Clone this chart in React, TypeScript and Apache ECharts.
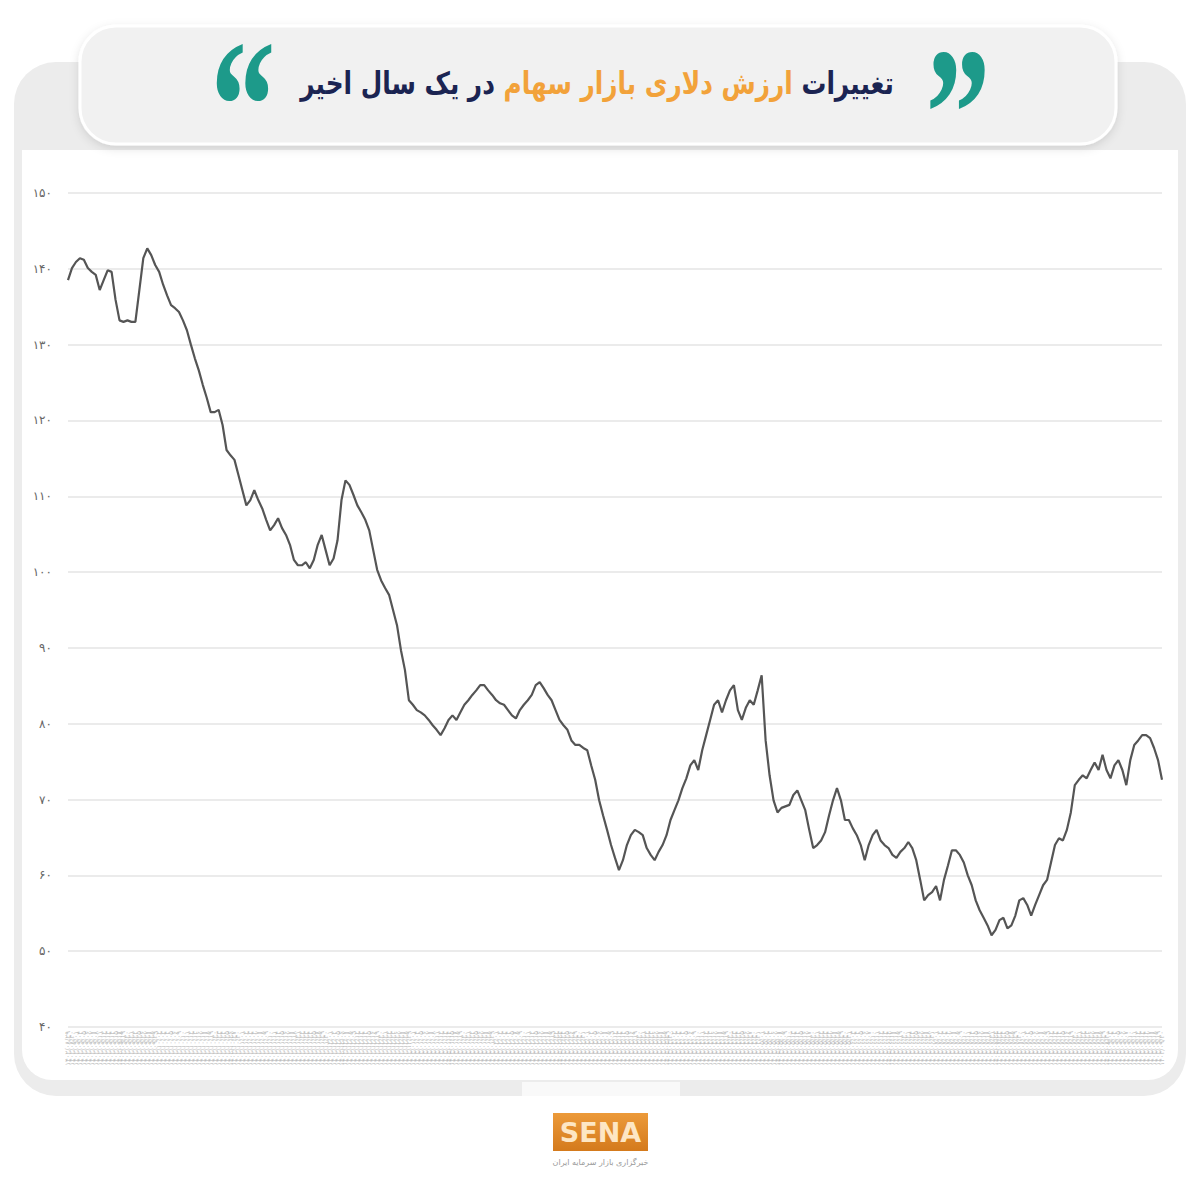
import React, { useEffect, useRef } from "react";
import * as echarts from "echarts";

// Dollar value of the stock market (billion USD)
const marketValues: number[] = [
  138.5, 140.1, 140.9, 141.4, 141.2, 140.1, 139.6, 139.2, 137.2, 138.5, 139.8, 139.6,
  135.9, 133.2, 133.0, 133.2, 133.0, 133.0, 137.2, 141.4, 142.7, 141.8, 140.5, 139.6,
  137.9, 136.5, 135.2, 134.8, 134.3, 133.2, 131.9, 130.0, 128.2, 126.6, 124.7, 123.0,
  121.1, 121.1, 121.4, 119.4, 116.1, 115.4, 114.8, 112.8, 110.8, 108.8, 109.5, 110.8,
  109.5, 108.4, 106.9, 105.5, 106.2, 107.1, 105.8, 104.9, 103.6, 101.6, 100.9, 100.9,
  101.3, 100.5, 101.6, 103.6, 104.9, 102.9, 100.9, 101.8, 104.2, 109.5, 112.1, 111.5,
  110.2, 108.8, 107.9, 106.9, 105.5, 102.9, 100.3, 98.9, 97.9, 97.0, 95.0, 93.0,
  89.7, 87.1, 83.1, 82.5, 81.8, 81.5, 81.1, 80.5, 79.8, 79.2, 78.5, 79.4,
  80.5, 81.1, 80.5, 81.5, 82.5, 83.1, 83.8, 84.4, 85.1, 85.1, 84.4, 83.8,
  83.1, 82.7, 82.5, 81.8, 81.1, 80.7, 81.8, 82.5, 83.1, 83.8, 85.1, 85.5,
  84.7, 83.8, 83.1, 81.8, 80.5, 79.8, 79.2, 77.8, 77.2, 77.2, 76.8, 76.5,
  74.5, 72.6, 69.9, 67.9, 66.0, 64.0, 62.3, 60.7, 62.0, 64.0, 65.3, 66.0,
  65.7, 65.3, 63.6, 62.7, 62.0, 63.1, 64.0, 65.3, 67.3, 68.6, 69.9, 71.5,
  72.8, 74.5, 75.2, 73.9, 76.5, 78.5, 80.5, 82.5, 83.1, 81.5, 83.1, 84.4,
  85.1, 81.8, 80.5, 82.1, 83.1, 82.5, 84.4, 86.4, 77.8, 73.2, 69.9, 68.3,
  68.9, 69.1, 69.3, 70.6, 71.2, 69.9, 68.6, 66.0, 63.6, 64.0, 64.6, 65.7,
  67.9, 69.9, 71.5, 69.9, 67.3, 67.3, 66.2, 65.3, 64.0, 62.0, 64.0, 65.3,
  66.0, 64.6, 64.0, 63.6, 62.7, 62.3, 63.1, 63.6, 64.4, 63.6, 62.0, 59.4,
  56.7, 57.4, 57.8, 58.6, 56.7, 59.4, 61.3, 63.3, 63.3, 62.7, 61.7, 60.0,
  58.7, 56.7, 55.4, 54.4, 53.4, 52.1, 52.8, 54.1, 54.4, 53.0, 53.4, 54.7,
  56.7, 57.0, 56.1, 54.7, 56.1, 57.4, 58.7, 59.4, 61.7, 64.0, 64.9, 64.6,
  66.0, 68.3, 71.9, 72.6, 73.2, 72.8, 73.9, 74.9, 73.9, 75.9, 73.9, 72.8,
  74.5, 75.2, 73.9, 71.9, 75.2, 77.2, 77.8, 78.5, 78.5, 78.1, 76.8, 75.2,
  72.6,
];

// Trading-day labels (Persian calendar), one per point
const tradingDates: string[] = (() => {
  const out: string[] = [];
  const fmt = (() => {
    try {
      return new Intl.DateTimeFormat("fa-IR-u-ca-persian", {
        year: "numeric",
        month: "2-digit",
        day: "2-digit",
      });
    } catch (e) {
      return null;
    }
  })();
  const d = new Date(2024, 11, 10);
  while (out.length < marketValues.length) {
    const wd = d.getDay(); // Thu=4, Fri=5 closed
    if (wd !== 4 && wd !== 5) {
      out.unshift(fmt ? fmt.format(d) : d.toISOString().slice(0, 10));
    }
    d.setDate(d.getDate() - 1);
  }
  return out;
})();

const yMin = 40;
const yMax = 150;
const yStep = 10;

const titleStart = "تغییرات";
const titleMiddle = "ارزش دلاری بازار سهام";
const titleEnd = "در یک سال اخیر";

const toFa = (s: string) => s.replace(/[0-9]/g, (c) => "۰۱۲۳۴۵۶۷۸۹"[+c]);

export default function App() {
  const ref = useRef<HTMLDivElement>(null);

  useEffect(() => {
    if (!ref.current) return;
    const chart = echarts.init(ref.current, undefined, { renderer: "svg" });
    chart.setOption({
      animation: false,
      backgroundColor: "#ffffff",
      graphic: [
        // outer grey card
        {
          type: "rect",
          z: -20,
          silent: true,
          shape: { x: 14, y: 62, width: 1172, height: 1034, r: 42 },
          style: { fill: "#ececec" },
        },
        // inner white plot panel
        {
          type: "rect",
          z: -19,
          silent: true,
          shape: { x: 22, y: 150, width: 1156, height: 930, r: [0, 0, 30, 30] },
          style: { fill: "#ffffff" },
        },
        // title banner
        {
          type: "rect",
          z: -18,
          silent: true,
          shape: { x: 80, y: 26, width: 1036, height: 118, r: 36 },
          style: {
            fill: "#f1f1f1",
            stroke: "#ffffff",
            lineWidth: 3,
            shadowBlur: 10,
            shadowColor: "rgba(0,0,0,0.12)",
            shadowOffsetY: 3,
          },
        },
        {
          type: "text",
          z: 10,
          x: 597,
          y: 84,
          scaleX: 0.8,
          style: {
            text: `{a|${titleEnd}} {b|${titleMiddle}} {a|${titleStart}}`,
            align: "center",
            verticalAlign: "middle",
            rich: {
              a: {
                fontFamily: "DejaVu Sans",
                fontWeight: "bold",
                fontSize: 31,
                fill: "#1b2452",
              },
              b: {
                fontFamily: "DejaVu Sans",
                fontWeight: "bold",
                fontSize: 31,
                fill: "#f2a23a",
              },
            },
            fontFamily: "DejaVu Sans",
            fontSize: 31,
            fontWeight: "bold",
          },
        },
        // quote marks
        {
          type: "text",
          z: 10,
          x: 958,
          y: 20,
          scaleY: 1.45,
          style: {
            text: "\u201D",
            fontFamily: "Liberation Serif",
            fontWeight: "bold",
            fontSize: 130,
            fill: "#1d9a8a",
            align: "center",
            verticalAlign: "top",
          },
        },
        {
          type: "text",
          z: 10,
          x: 243,
          y: 12,
          scaleY: 1.45,
          style: {
            text: "\u201C",
            fontFamily: "Liberation Serif",
            fontWeight: "bold",
            fontSize: 130,
            fill: "#1d9a8a",
            align: "center",
            verticalAlign: "top",
          },
        },
        // logo glow
        {
          type: "rect",
          z: -17,
          silent: true,
          shape: { x: 522, y: 1082, width: 158, height: 92 },
          style: { fill: "#ffffff", opacity: 0.7 },
        },
        {
          type: "rect",
          z: 10,
          shape: { x: 553, y: 1113, width: 95, height: 38 },
          style: {
            fill: new echarts.graphic.LinearGradient(0, 0, 0, 1, [
              { offset: 0, color: "#ec9a3a" },
              { offset: 1, color: "#d47a1c" },
            ]),
          },
        },
        {
          type: "text",
          z: 11,
          x: 600.5,
          y: 1132,
          style: {
            text: "SENA",
            fontFamily: "DejaVu Sans",
            fontWeight: "bold",
            fontSize: 27,
            fill: "#fde6c4",
            align: "center",
            verticalAlign: "middle",
          },
        },
        {
          type: "text",
          z: 11,
          x: 600.5,
          y: 1162,
          style: {
            text: "خبرگزاری بازار سرمایه ایران",
            fontFamily: "DejaVu Sans",
            fontSize: 8,
            fill: "#9a9a9a",
            align: "center",
            verticalAlign: "middle",
          },
        },
      ],
      grid: { left: 68, right: 38, top: 193, bottom: 173, containLabel: false },
      xAxis: {
        type: "category",
        data: tradingDates,
        boundaryGap: false,
        axisLine: { show: false },
        axisTick: { show: false },
        axisLabel: {
          interval: 0,
          rotate: 90,
          fontSize: 7,
          color: "#b8b8b8",
          margin: 4,
          fontFamily: "DejaVu Sans",
        },
        splitLine: { show: false },
      },
      yAxis: {
        type: "value",
        min: yMin,
        max: yMax,
        interval: yStep,
        axisLine: { show: false },
        axisTick: { show: false },
        axisLabel: {
          fontSize: 12,
          color: "#666666",
          margin: 16,
          fontFamily: "DejaVu Sans",
          formatter: (v: number) => toFa(String(v)),
        },
        splitLine: { lineStyle: { color: "#e4e4e4", width: 1.5 } },
      },
      series: [
        {
          type: "line",
          data: marketValues,
          symbol: "none",
          smooth: false,
          lineStyle: { color: "#555555", width: 2.2 },
          z: 5,
        },
      ],
    });
    return () => chart.dispose();
  }, []);

  return (
    <div
      ref={ref}
      style={{ position: "fixed", left: 0, top: 0, width: 1200, height: 1200 }}
    />
  );
}
